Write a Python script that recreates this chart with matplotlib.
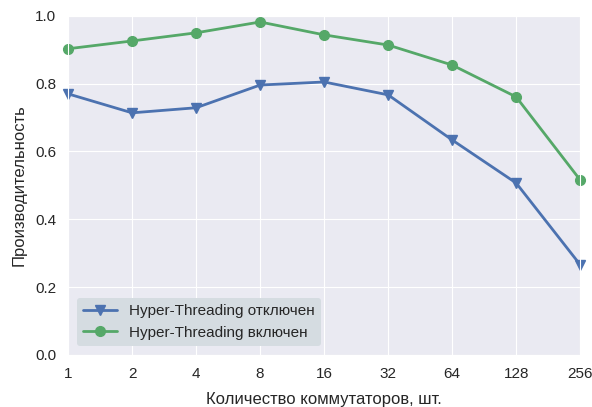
import numpy as np
import matplotlib
matplotlib.use('Agg')
import matplotlib.pyplot as plt
import seaborn as sns

# данные
switches = ['1', '2', '4', '8', '16', '32', '64', '128', '256']
ht_off = [0.770, 0.714, 0.729, 0.796, 0.805, 0.767, 0.634, 0.507, 0.266]
ht_on = [0.903, 0.926, 0.950, 0.982, 0.944, 0.914, 0.855, 0.761, 0.516]

sns.set_style('darkgrid')
plt.rcParams['font.family'] = ['Liberation Sans', 'DejaVu Sans']

fig = plt.figure(figsize=(5.92, 4.07), dpi=100)
ax = fig.add_axes([0.115, 0.128, 0.865, 0.833])

pos = np.arange(len(switches))
ax.plot(pos, ht_off, color='#4c72b0', marker='v', markersize=7, lw=2,
        label='Hyper-Threading отключен', clip_on=False)
ax.plot(pos, ht_on, color='#55a868', marker='o', markersize=7, lw=2,
        label='Hyper-Threading включен', clip_on=False)

ax.set_xlim(0, len(switches) - 1)
ax.set_ylim(0, 1.0)
ax.set_xticks(pos)
ax.set_xticklabels(switches)
ax.set_yticks([0.0, 0.2, 0.4, 0.6, 0.8, 1.0])
ax.tick_params(labelsize=11, colors='#262626', pad=5)
ax.set_xlabel('Количество коммутаторов, шт.', fontsize=12, color='#262626',
              labelpad=8)
ax.set_ylabel('Производительность', fontsize=12, color='#262626', labelpad=6)

leg = ax.legend(loc='lower left', frameon=True, numpoints=1, fontsize=11,
                handlelength=2.2, borderaxespad=0.6)
leg.get_frame().set_facecolor('#d5dce1')
leg.get_frame().set_edgecolor('none')
leg.get_frame().set_alpha(1)

fig.savefig('out.png', dpi=100)
